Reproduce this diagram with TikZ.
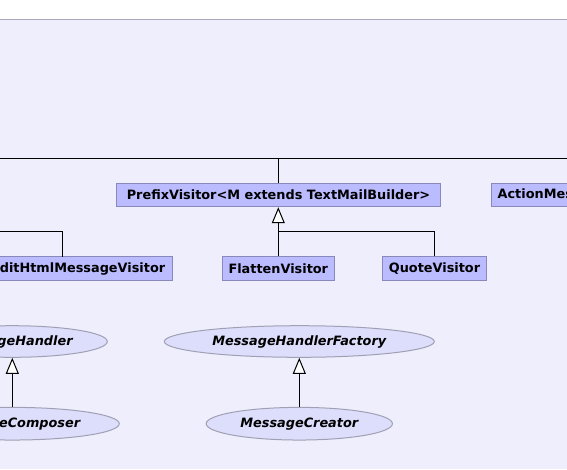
\documentclass[tikz,border=0pt]{standalone}
\usepackage{fontspec}
\setmainfont{DejaVu Sans}
\usetikzlibrary{arrows.meta,shapes.geometric}

\definecolor{sfondo}{RGB}{238,238,252}
\definecolor{bordo}{RGB}{168,168,184}
\definecolor{classefill}{RGB}{187,187,255}
\definecolor{classebordo}{RGB}{136,136,187}
\definecolor{intfill}{RGB}{221,221,252}
\definecolor{intbordo}{RGB}{160,160,180}

\tikzset{
	classe/.style={draw=classebordo, fill=classefill, line width=0.75pt, inner xsep=4.5pt, inner ysep=0pt,
		minimum height=17.6pt, font=\fontsize{9.64pt}{11pt}\selectfont\bfseries},
	interfaccia/.style={ellipse, draw=intbordo, fill=intfill, line width=0.75pt, inner sep=0pt,
		font=\fontsize{9.64pt}{11pt}\selectfont\bfseries\itshape},
	eredita/.style={-{Triangle[length=12pt, width=9.75pt, fill=white]}, line width=0.75pt},
	linea/.style={line width=0.75pt}
}

\begin{document}
\begin{tikzpicture}[x=0.75pt, y=-0.75pt]
	% sfondo e ritaglio
	\useasboundingbox (0,0) rectangle (567,469);
	\clip (0,0) rectangle (567,469);
	\fill[white] (0,0) rectangle (567,19.5);
	\fill[sfondo] (0,19.5) rectangle (567,469);
	\draw[color=bordo, line width=0.9pt] (0,19.5) -- (567,19.5);

	% classi
	\node[classe, minimum width=243pt] (prefix) at (278.5,195) {PrefixVisitor<M extends TextMailBuilder>};
	\node[classe, anchor=west, inner xsep=5pt] (action) at (490.5,195) {ActionMessageVisitor};
	\node[classe, anchor=east, inner xsep=5.5pt, minimum height=17.5pt] (edithtml) at (173,268.6) {EditHtmlMessageVisitor};
	\node[classe, minimum width=82pt, minimum height=17.5pt] (flatten) at (278.3,268.6) {FlattenVisitor};
	\node[classe, minimum width=76.3pt, minimum height=17.5pt] (quote) at (434.5,268.6) {QuoteVisitor};

	% interfacce
	\node[interfaccia, minimum width=142.5pt, minimum height=23.7pt] (handler) at (12.3,341.5) {MessageHandler};
	\node[interfaccia, minimum width=160.5pt, minimum height=24.5pt] (composer) at (12.3,423.7) {MessageComposer};
	\node[interfaccia, minimum width=202.5pt, minimum height=23.7pt] (factory) at (299.3,341.5) {MessageHandlerFactory};
	\node[interfaccia, minimum width=139.7pt, minimum height=24.5pt] (creator) at (299.3,423.7) {MessageCreator};

	% punti di raccordo
	\coordinate (topleft) at (-10,158.3);
	\coordinate (topright) at (577,158.3);
	\coordinate (join) at (278.3,231);
	\coordinate (edittap) at (62.3,257);
	\coordinate (offleft) at (-10,231);

	% linee in alto
	\draw[linea] (topleft) -- (topright);
	\draw[linea] (prefix.north) -- (prefix.north |- topleft);

	% ereditarieta
	\draw[eredita] (flatten.north) -- (flatten.north |- prefix.south);
	\draw[linea] (quote.north) |- (join);
	\draw[linea] (edittap) |- (offleft);
	\draw[eredita] (composer) -- (handler);
	\draw[eredita] (creator) -- (factory);
\end{tikzpicture}
\end{document}
